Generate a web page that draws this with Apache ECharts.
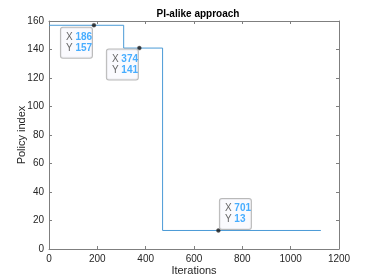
<!DOCTYPE html>
<html><head><meta charset="utf-8">
<script src="https://cdn.jsdelivr.net/npm/echarts@6/dist/echarts.min.js"></script>
<style>html,body{margin:0;padding:0;background:#fff}#c{width:374px;height:280px}</style>
</head><body><div id="c"></div>
<script>
const stepX = [0, 309, 470, 1125];
const stepY = [157, 141, 13, 13];
const tipX = [186, 374, 701];
const tipY = [157, 141, 13];
const xTicks = [0, 200, 400, 600, 800, 1000, 1200];
const yTicks = [0, 20, 40, 60, 80, 100, 120, 140, 160];

const tipOffsets = [[-17.5, 17.5], [-17, 16.5], [17, -16.5]];
const FONT = 'Liberation Sans, Arial, sans-serif';
const axisCol = '#262626';

const chart = echarts.init(document.getElementById('c'));
const stepData = stepX.map((x, i) => [x, stepY[i]]);
const tipData = tipX.map((x, i) => ({
  value: [x, tipY[i]],
  label: { offset: tipOffsets[i] }
}));

function mkX(pos, show) {
  return {
    type: 'value', position: pos, min: xTicks[0], max: xTicks[xTicks.length - 1], interval: 200,
    axisLine: { show: true, onZero: false, lineStyle: { color: '#7f7f7f', width: 1 } },
    axisTick: { show: true, inside: true, length: 3, lineStyle: { color: '#7f7f7f' } },
    axisLabel: { show: show, color: axisCol, fontSize: 10, fontFamily: FONT, margin: 5, formatter: v => String(v) },
    splitLine: { show: false },
    name: show ? 'Iterations' : '', nameLocation: 'middle', nameGap: 16, nameMoveOverlap: false,
    nameTextStyle: { color: axisCol, fontSize: 11, fontFamily: FONT }
  };
}
function mkY(pos, show) {
  return {
    type: 'value', position: pos, min: yTicks[0], max: yTicks[yTicks.length - 1], interval: 20,
    axisLine: { show: true, onZero: false, lineStyle: { color: '#7f7f7f', width: 1 } },
    axisTick: { show: true, inside: true, length: 3, lineStyle: { color: '#7f7f7f' } },
    axisLabel: { show: show, color: axisCol, fontSize: 10, fontFamily: FONT, margin: 5, formatter: v => String(v) },
    splitLine: { show: false },
    name: show ? 'Policy index' : '', nameLocation: 'middle', nameGap: 22, nameMoveOverlap: false,
    nameTextStyle: { color: axisCol, fontSize: 11, fontFamily: FONT }
  };
}

chart.setOption({
  animation: false,
  backgroundColor: '#fff',
  title: {
    text: 'PI-alike approach', left: 193, top: 4, textAlign: 'center',
    textStyle: { fontSize: 10, fontWeight: 'bold', color: '#000', fontFamily: FONT }
  },
  grid: { left: 49, right: 35, top: 21, bottom: 31, containLabel: false, outerBoundsMode: 'none' },
  xAxis: [mkX('bottom', true), mkX('top', false)],
  yAxis: [mkY('left', true), mkY('right', false)],
  series: [
    {
      type: 'line', step: 'end', data: stepData, showSymbol: false,
      lineStyle: { color: '#4a9ad6', width: 1 }, xAxisIndex: 0, yAxisIndex: 0
    },
    {
      type: 'scatter', data: tipData, symbolSize: 4, z: 5,
      itemStyle: { color: '#111', borderColor: '#555', borderWidth: 0.5 },
      label: {
        show: true, position: 'inside', align: 'center', verticalAlign: 'middle',
        formatter: p => '{k|X }{v|' + p.value[0] + '}\n{k|Y }{v|' + p.value[1] + '}',
        backgroundColor: '#f9f9fe', borderColor: '#a8a8a8', borderWidth: 1, borderRadius: 2,
        padding: [4, 4, 4, 5], width: 22,
        rich: {
          k: { align: 'left', color: '#404040', fontSize: 10, fontFamily: FONT, lineHeight: 11 },
          v: { align: 'left', color: '#1a9aff', fontSize: 10, fontWeight: 'bold', fontFamily: FONT, lineHeight: 11 }
        }
      }
    }
  ]
});
</script></body></html>
